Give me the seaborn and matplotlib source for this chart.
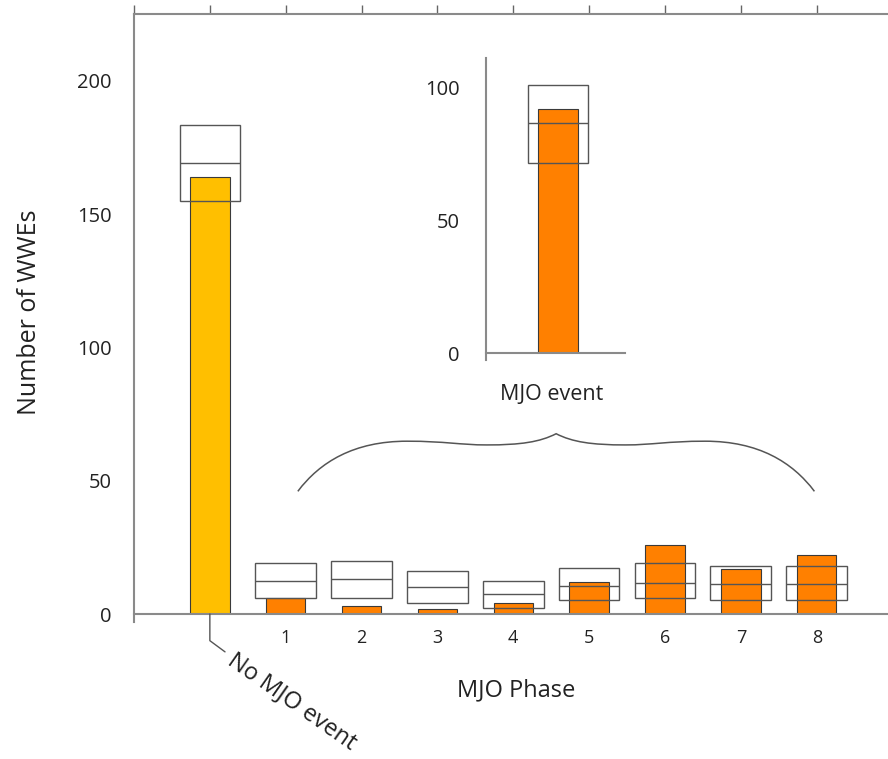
import numpy as np
import pandas as pd
import matplotlib
matplotlib.use("Agg")
import matplotlib.pyplot as plt
import seaborn as sns
from matplotlib.path import Path
from matplotlib.patches import PathPatch

# ---------------- data ----------------
categories = ["No MJO event", "1", "2", "3", "4", "5", "6", "7", "8"]
positions = [0, 1, 2, 3, 4, 5, 6, 7, 8]
observed = [164, 6, 3, 2, 4, 12, 26, 17, 22]
box_low = [155, 6, 6, 4.2, 2.1, 5.2, 5.9, 5.2, 5.2]
box_mid = [169, 12.4, 13, 10.2, 7.4, 10.5, 11.7, 11.1, 11.1]
box_high = [183.5, 19.1, 20, 16.1, 12.2, 17.1, 19.2, 18.1, 18.1]
group = ["none"] + ["mjo"] * 8

inset_category = ["MJO event"]
inset_position = [0]
inset_observed = [92]
inset_low = [71.7]
inset_mid = [86.5]
inset_high = [101]

y_ticks = [0, 50, 100, 150, 200]
inset_y_ticks = [0, 50, 100]

# ---------------- style ----------------
sns.set_style("white")
plt.rcParams['font.family'] = ['Open Sans', 'DejaVu Sans']
TXT = "#222222"
SPINE = "#8a8a8a"
BOX = "#555555"
palette = {"none": "#FFBF00", "mjo": "#FF8000"}

W, H = 888, 759
fig = plt.figure(figsize=(W / 100, H / 100), dpi=100)

def px_axes(l, t, r, b):
    return [l / W, 1 - b / H, (r - l) / W, (b - t) / H]

# ---------------- main axes ----------------
ax = fig.add_axes(px_axes(134, 14, 888, 614))
ax.set_facecolor("none")
df = pd.DataFrame(dict(pos=positions, n=observed, group=group))
sns.barplot(data=df, x="pos", y="n", hue="group", palette=palette,
            native_scale=True, width=0.52, dodge=False, legend=False,
            saturation=1, edgecolor="#3a3a3a", linewidth=0.8, ax=ax, zorder=2)

pos = np.array(positions, dtype=float)
ax.bar(pos, np.subtract(box_high, box_low), bottom=box_low, width=0.80,
       fill=False, edgecolor=BOX, linewidth=1.0, zorder=3)
ax.hlines(box_mid, pos - 0.40, pos + 0.40, color=BOX, lw=1.0, zorder=3)

ax.set_xlim(-1, 8.94)
ax.set_ylim(0, 225)
ax.set_xticks(positions[1:], labels=categories[1:])
ax.set_yticks(y_ticks, labels=[str(v) for v in y_ticks])
ax.set_xlabel("")
ax.set_ylabel("")
for s in ["right", "top"]:
    ax.spines[s].set_visible(False)
for s in ["left", "bottom"]:
    ax.spines[s].set_color(SPINE)
    ax.spines[s].set_linewidth(1.5)
ax.spines["left"].set_bounds(-3, 225)
ax.tick_params(axis="x", direction="out", length=6, width=1, color="#666",
               labelsize=13, labelcolor=TXT, pad=5)
ax.tick_params(axis="y", direction="out", length=5, width=1, color="#666",
               labelsize=14.5, labelcolor=TXT, pad=11)

sec = ax.secondary_xaxis("top")
sec.set_xticks(range(-1, 9))
sec.set_xticklabels([])
sec.tick_params(direction="out", length=6.5, width=1, color="#666")
sec.spines["top"].set_color(SPINE)
sec.spines["top"].set_linewidth(1.5)

# brace over phases
L0, Lf, Ld, Pk = 1.16, 2.6, 3.65, 4.565
yE, yF, yD, yP = 46, 64.8, 63.4, 67.6
def mx(x):
    return 2 * Pk - x
verts = [(L0, yE), (1.45, 57), (1.9, yF), (Lf, yF),
         (3.1, yF), (3.3, yD), (Ld, yD),
         (4.1, yD), (4.35, 64.5), (Pk, yP),
         (mx(4.35), 64.5), (mx(4.1), yD), (mx(Ld), yD),
         (mx(3.3), yD), (mx(3.1), yF), (mx(Lf), yF),
         (mx(1.9), yF), (mx(1.45), 57), (mx(L0), yE)]
codes = [Path.MOVETO] + [Path.CURVE4] * 18
ax.add_patch(PathPatch(Path(verts, codes), fill=False, edgecolor="#555",
                       lw=1.1, zorder=4))

# leader line and label for "No MJO event"
ax.plot([0, 0, 0.20], [0, -10.0, -14.2], color="#555", lw=1.0,
        clip_on=False, zorder=4)
ax.text(0.36, -12.8, categories[0], rotation=-35, rotation_mode="anchor",
        ha="left", va="top", fontsize=17, color=TXT, clip_on=False)

fig.text(30 / W, 1 - 312 / H, "Number of WWEs", rotation=90, ha="center",
         va="center", fontsize=18, color=TXT)
fig.text(516 / W, 1 - 690 / H, "MJO Phase", ha="center", va="center",
         fontsize=17, color=TXT)

# ---------------- inset axes ----------------
ax2 = fig.add_axes(px_axes(486, 58, 625, 353.3))
ax2.set_facecolor("none")
dfi = pd.DataFrame(dict(pos=inset_position, n=inset_observed, cat=inset_category))
sns.barplot(data=dfi, x="pos", y="n", color="#FF8000", native_scale=True,
            width=0.52, saturation=1, edgecolor="#3a3a3a", linewidth=0.8,
            ax=ax2, zorder=2)
ipos = np.array(inset_position, dtype=float)
ax2.bar(ipos, np.subtract(inset_high, inset_low), bottom=inset_low, width=0.80,
        fill=False, edgecolor=BOX, linewidth=1.0, zorder=3)
ax2.hlines(inset_mid, ipos - 0.40, ipos + 0.40, color=BOX, lw=1.0, zorder=3)
ax2.set_xlim(-0.95, 0.883)
ax2.set_ylim(0, 111)
ax2.set_xticks(inset_position, labels=[""])
ax2.set_yticks(inset_y_ticks, labels=[str(v) for v in inset_y_ticks])
ax2.set_xlabel("")
ax2.set_ylabel("")
for s in ["right", "top"]:
    ax2.spines[s].set_visible(False)
for s in ["left", "bottom"]:
    ax2.spines[s].set_color(SPINE)
    ax2.spines[s].set_linewidth(1.5)
ax2.spines["left"].set_bounds(-2.5, 111)
ax2.tick_params(axis="x", direction="out", length=12, width=1, color="#888")
ax2.tick_params(axis="y", direction="out", length=5, width=1, color="#666",
                labelsize=14.5, labelcolor=TXT, pad=14)
fig.text(552 / W, 1 - 395 / H, inset_category[0], ha="center", va="center",
         fontsize=15.5, color=TXT)

fig.savefig("out.png", dpi=100)
